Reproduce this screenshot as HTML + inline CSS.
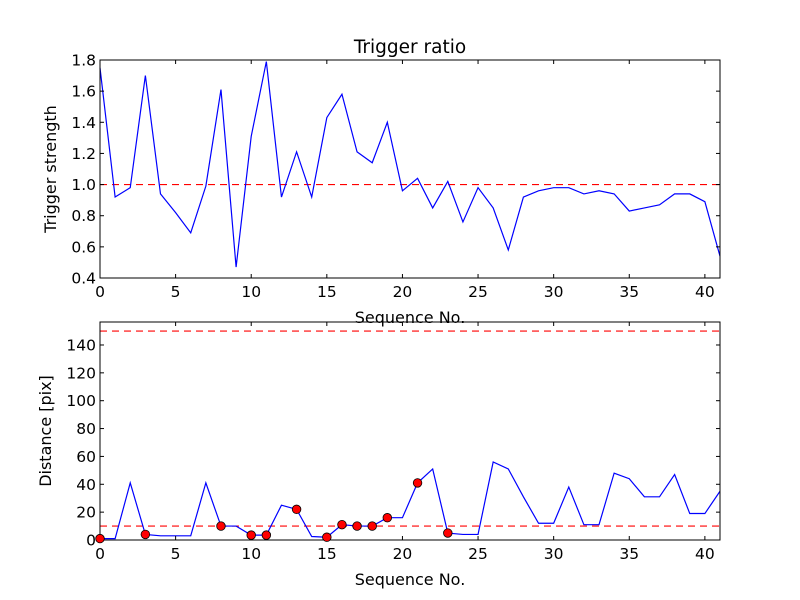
<!DOCTYPE html>
<html><head><meta charset="utf-8"><style>
body{margin:0;background:#fff;}
svg{display:block;font-family:"DejaVu Sans","Liberation Sans",sans-serif;}
</style></head><body>
<svg id="chart" width="800" height="600" viewBox="0 0 800 600" xmlns="http://www.w3.org/2000/svg">
<rect width="800" height="600" fill="#fff"/>
<g id="g"></g>
</svg>
<script>
const ratioValues=[1.75,0.92,0.98,1.70,0.94,0.82,0.69,0.99,1.61,0.47,1.31,1.79,0.92,1.21,0.92,1.43,1.58,1.21,1.14,1.40,0.96,1.04,0.85,1.02,0.76,0.98,0.85,0.58,0.92,0.96,0.98,0.98,0.94,0.96,0.94,0.83,0.85,0.87,0.94,0.94,0.89,0.54];
const distValues=[1,1,41,4,3,3,3,41,10,10,3.5,3.5,25,22,2.5,2,11,10,10,16,16,41,51,5,4,4,56,51,31,12,12,38,11,11,48,44,31,31,47,19,19,35];
const markerIdx=[0,3,8,10,11,13,15,16,17,18,19,21,23];
const xTicks=[0,5,10,15,20,25,30,35,40];
const ratioTicks=[0.4,0.6,0.8,1.0,1.2,1.4,1.6,1.8];
const distTicks=[0,20,40,60,80,100,120,140];
const ratioThreshold=[1.0];
const distThresholds=[10,150];

const NS="http://www.w3.org/2000/svg";
const g=document.getElementById('g');
function el(t,a,txt){const e=document.createElementNS(NS,t);for(const k in a)e.setAttribute(k,a[k]);if(txt!==undefined)e.textContent=txt;g.appendChild(e);return e;}
const L=100,R=720;
const xs=v=>L+(v-0)/(41-0)*(R-L);
function panel(top,bot,ymin,ymax,vals,ticks,thr,fmt,ylabel,name){
  const ys=v=>bot-(v-ymin)/(ymax-ymin)*(bot-top);
  let d=vals.map((v,i)=>(i?'L':'M')+xs(i).toFixed(2)+','+ys(v).toFixed(2)).join('');
  thr.forEach(t=>{const e=el('line',{x1:L,x2:R,y1:ys(t),y2:ys(t),stroke:'#ff0000','stroke-width':1.2,'stroke-dasharray':'7,5'});
    
    });
  const p=el('path',{d:d,fill:'none',stroke:'#0000ff','stroke-width':1.2});
  
  
  const box=el('rect',{x:L,y:top,width:R-L,height:bot-top,fill:'none',stroke:'#000','stroke-width':1});
  
  
  xTicks.forEach(t=>{const x=xs(t);
    el('line',{x1:x,x2:x,y1:bot,y2:bot-4,stroke:'#000'});el('line',{x1:x,x2:x,y1:top,y2:top+4,stroke:'#000'});
    const tx=el('text',{x:x,y:bot+19,'font-size':15.5,'text-anchor':'middle'},String(t));
    
    });
  ticks.forEach(t=>{const y=ys(t);
    el('line',{x1:L,x2:L+4,y1:y,y2:y,stroke:'#000'});el('line',{x1:R,x2:R-4,y1:y,y2:y,stroke:'#000'});
    const tx=el('text',{x:L-4,y:y+5.5,'font-size':15.5,'text-anchor':'end'},fmt(t));
    
    });
  const xl=el('text',{x:410,y:bot+45,'font-size':16,'text-anchor':'middle'},'Sequence No.');
  
  
  const yl=el('text',{x:0,y:0,'font-size':16,'text-anchor':'middle',transform:`translate(${name==='ratio'?56:51},${(top+bot)/2}) rotate(-90)`},ylabel);
  
  
  return ys;
}
panel(60,278,0.4,1.8,ratioValues,ratioTicks,ratioThreshold,t=>t.toFixed(1),'Trigger strength','ratio');
const ys2=panel(322,540,0,156.5,distValues,distTicks,distThresholds,t=>String(t),'Distance [pix]','distance');
markerIdx.forEach(i=>{const c=el('circle',{cx:xs(i),cy:ys2(distValues[i]),r:4.3,fill:'#ff0000',stroke:'#000','stroke-width':0.8});
  
  });
const t=el('text',{x:410,y:53,'font-size':18.5,'text-anchor':'middle'},'Trigger ratio');


</script>
</body></html>
